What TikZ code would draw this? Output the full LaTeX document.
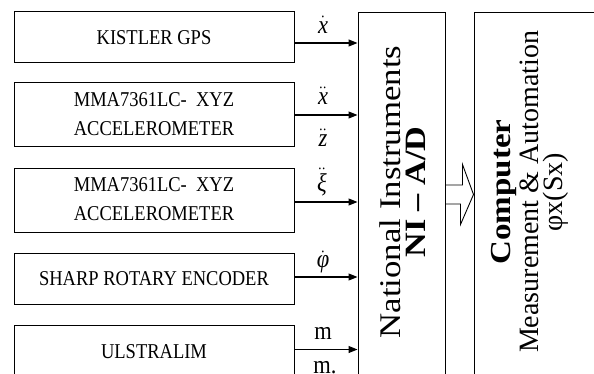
\documentclass[tikz,border=0pt]{standalone}
\usepackage{fontspec}
\setmainfont{Liberation Serif}
\usetikzlibrary{arrows.meta}

% taller / longer lettering as in the scanned figure
\newcommand{\vst}[1]{\scalebox{1}[1.14]{#1}}
\newcommand{\lst}[1]{\scalebox{1.16}[1]{#1}}
\newcommand{\sig}[2]{\vst{$#1{\mbox{\itshape #2}}$}}

\begin{document}
\begin{tikzpicture}[x=1pt, y=-1pt,
    every node/.style={font=\fontsize{18.5}{25.5}\selectfont},
    flow/.style={-{Triangle[length=9pt,width=7pt]}, line width=1.1pt},
    hollow/.style={line width=0.9pt},
    sensorbox/.style={draw, line width=1pt, minimum width=280pt, align=center, inner sep=0pt},
    bigbox/.style={draw, line width=1pt, minimum width=#1, minimum height=387pt},
    siglabel/.style={font=\fontsize{22.5}{26}\selectfont, inner sep=0pt}
]
\useasboundingbox (0,0) rectangle (594,374);

\node[sensorbox, minimum height=51pt] (gps) at (154,37.5) {\vst{KISTLER GPS}};
\node[sensorbox, minimum height=64pt] (accone) at (154,115)
    {\vst{\begin{tabular}{@{}c@{}}MMA7361LC-\ \ XYZ\\ACCELEROMETER\end{tabular}}};
\node[sensorbox, minimum height=63pt] (acctwo) at (154,200.5)
    {\vst{\begin{tabular}{@{}c@{}}MMA7361LC-\ \ XYZ\\ACCELEROMETER\end{tabular}}};
\node[sensorbox, minimum height=51pt] (enc) at (154,278.5) {\vst{SHARP ROTARY ENCODER}};
\node[sensorbox, minimum height=53pt] (ulim) at (154,351.5) {\vst{ULSTRALIM}};

\node[bigbox=87pt] (ni) at (401.5,206.5) {};
\node[bigbox=146pt] (comp) at (547,206.5) {};

\node[rotate=90, align=center, font=\fontsize{30}{25}\selectfont] (nitext) at (403,192)
    {\lst{National Instruments}\\\lst{\bfseries\fontsize{29.5}{25}\selectfont NI – A/D}};
\node[rotate=90, align=center, font=\fontsize{28}{28}\selectfont] (comptext) at (529.5,192)
    {\scalebox{1.14}[1]{\bfseries\fontsize{29}{28}\selectfont Computer}\\Measurement \& Automation\\[-4pt]φx(Sx)};

% sensor signals
\foreach \src/\dy in {gps/-5.5, accone/0, acctwo/-1.5, enc/1.5, ulim/2}
    \draw[flow] ([yshift=\dy pt]\src.east) -- ([yshift=\dy pt]\src.east -| ni.west);

\node[siglabel] at (323,25) {\sig{\dot}{x}};
\node[siglabel] at (323,96) {\sig{\ddot}{x}};
\node[siglabel] at (323,138) {\sig{\ddot}{z}};
\node[siglabel] at (322,182) {\sig{\ddot}{ξ}};
\node[siglabel] at (323,262) {\sig{\dot}{φ}};
\node[siglabel] at (323,333.5) {\vst{m}};
\node[siglabel] at (325,368) {\vst{m.}};

% hollow arrow to computer
\coordinate (holtail) at ([yshift=12pt]ni.east);
\coordinate (holtip) at (holtail -| comp.west);
\draw[hollow] ([yshift=9.5pt]holtail) -- ++(17,0) -- ++(0,-20.5) -- (holtip)
    -- ++(-13,30) -- ++(0,-20.5) -- ([yshift=-9.5pt]holtail);
\end{tikzpicture}
\end{document}
